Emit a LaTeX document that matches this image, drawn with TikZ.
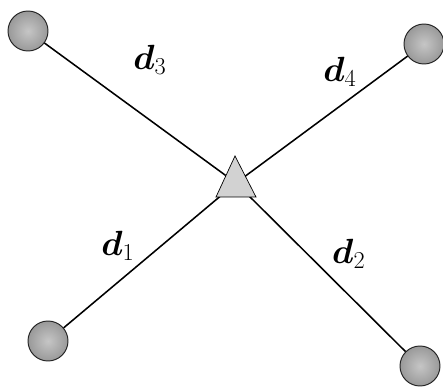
\documentclass[tikz,border=0pt]{standalone}
\usepackage{amsmath}
\usetikzlibrary{shadings}

\tikzset{
  sensor/.style={circle,draw=black!85,line width=0.7pt,minimum size=1cm,inner sep=0pt,
    inner color=gray!45,outer color=gray!80},
  dlabel/.style={font=\fontsize{23}{27}\selectfont}
}

\begin{document}
\begin{tikzpicture}
  \useasboundingbox (0,0) rectangle (11.075,-9.675);
  \node[sensor] (s3) at (0.7,-0.775) {};
  \node[sensor] (s4) at (10.6,-1.1) {};
  \node[sensor] (s1) at (1.2,-8.525) {};
  \node[sensor] (s2) at (10.5,-9.15) {};
  \coordinate (ap) at (5.9,-4.575);
  \draw[line width=1.1pt] (s1) -- (ap) -- (s2);
  \draw[line width=1.1pt] (s3) -- (ap) -- (s4);
  \draw[fill=gray!35,line width=0.5pt] (5.875,-3.9) -- (6.4,-4.925) -- (5.4,-4.925) -- cycle;
  \node[dlabel] (l3) at (3.75,-1.5) {$\boldsymbol{d}_3$};
  \node[dlabel] (l4) at (8.5,-1.8) {$\boldsymbol{d}_4$};
  \node[dlabel] (l1) at (2.95,-6.15) {$\boldsymbol{d}_1$};
  \node[dlabel] (l2) at (8.72,-6.35) {$\boldsymbol{d}_2$};
\end{tikzpicture}
\end{document}
